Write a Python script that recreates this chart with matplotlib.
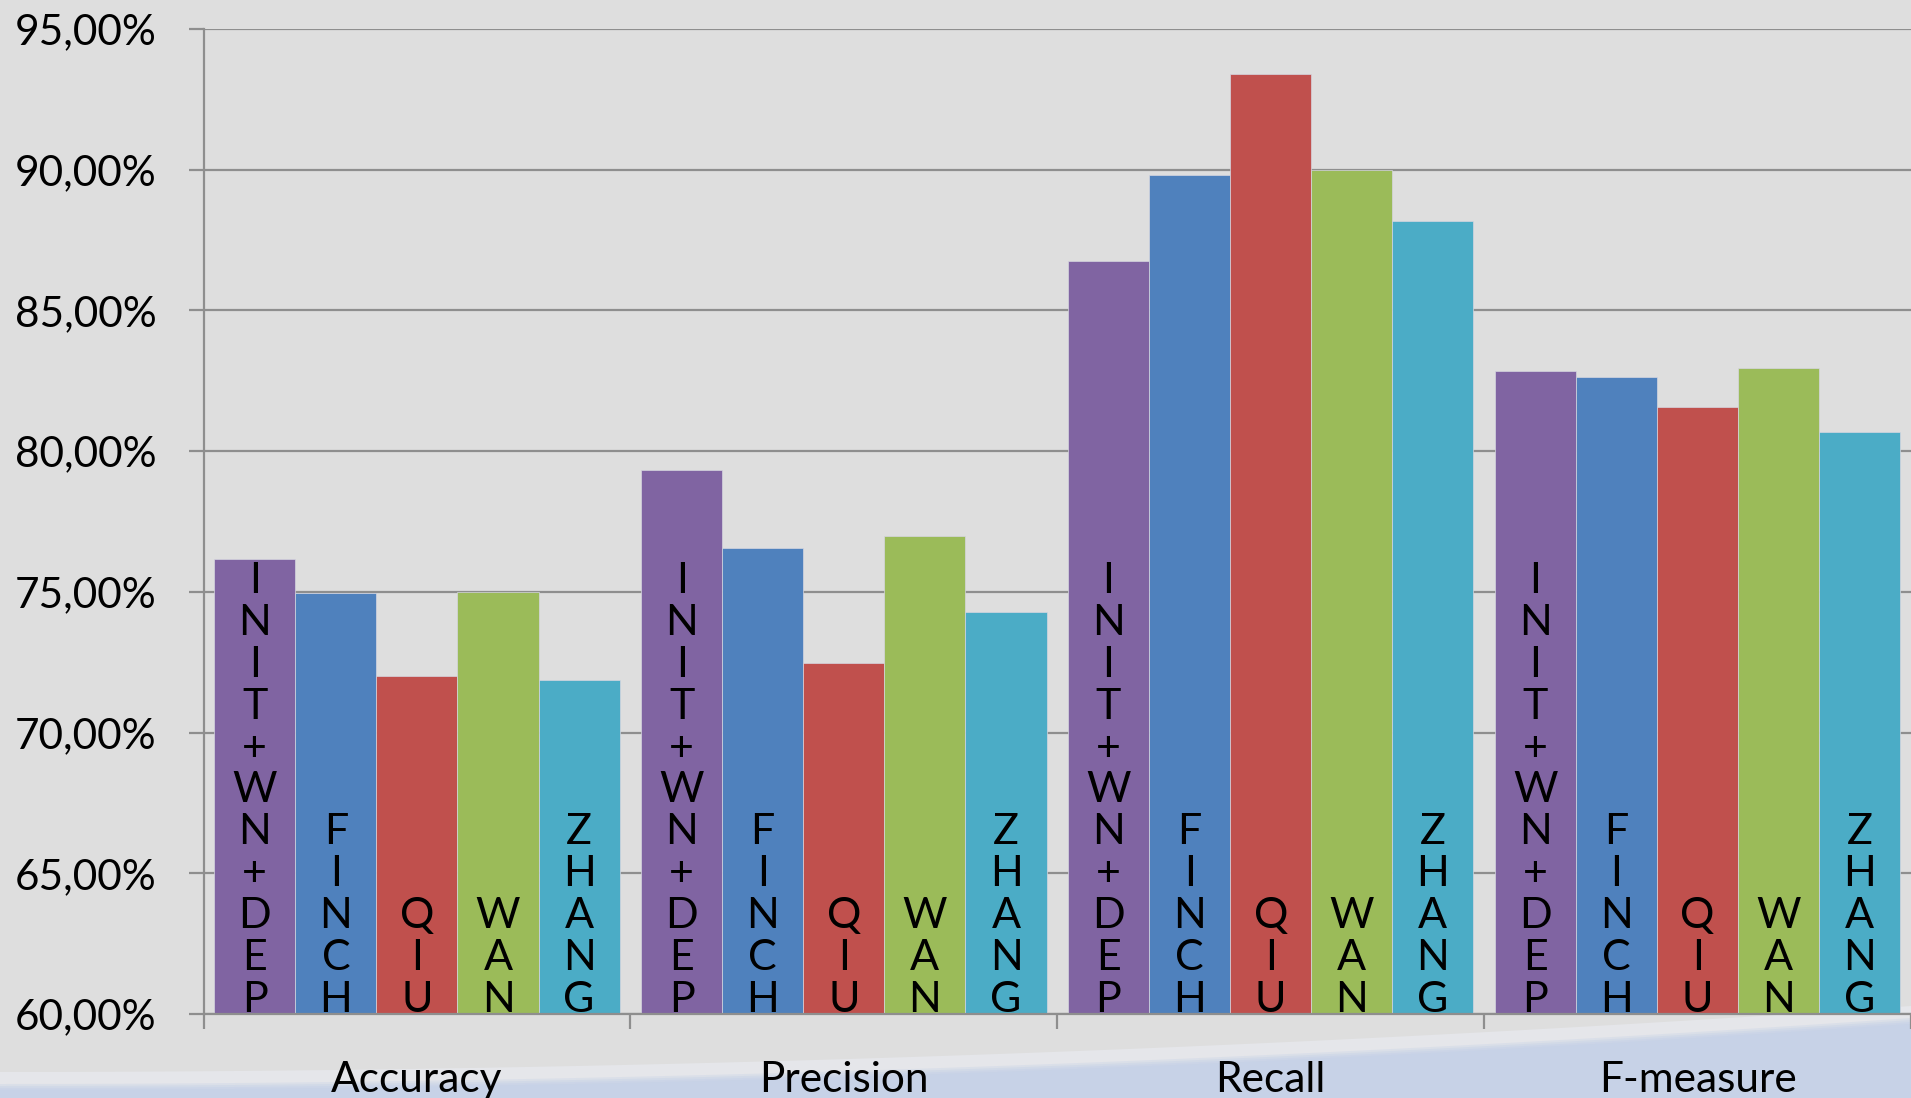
import numpy as np
import matplotlib
matplotlib.use("Agg")
from matplotlib import pyplot as plt
from matplotlib.patches import Polygon

categories = ["Accuracy", "Precision", "Recall", "F-measure"]
methods = ["INIT+WN+DEP", "FINCH", "QIU", "WANG", "ZHANG"]
# text written inside the bars (the WANG one shows only three letters)
bar_labels = ["INIT+WN+DEP", "FINCH", "QIU", "WAN", "ZHANG"]

# scores in percent, one list per method (same order as categories)
init_wn_dep = [76.16, 79.32, 86.77, 82.83]
finch = [74.95, 76.55, 89.80, 82.62]
qiu = [72.00, 72.48, 93.40, 81.58]
wang = [75.00, 76.98, 90.00, 82.96]
zhang = [71.87, 74.30, 88.19, 80.67]

series = [init_wn_dep, finch, qiu, wang, zhang]
colours = ["#8064A2", "#4F81BD", "#C0504D", "#9BBB59", "#4BACC6"]
y_ticks = [60, 65, 70, 75, 80, 85, 90, 95]

plt.rcParams['font.family'] = ['Lato', 'DejaVu Sans']

bg = "#dedede"
grid_c = "#8e8e8e"

fig = plt.figure(figsize=(19.11, 10.98), dpi=100, facecolor=bg)

# soft background swoosh at the bottom (decoration), a few layers to blur the edge
xs = np.linspace(0, 1, 60)
top = (8 + 66 * xs ** 2) / 1098
band = Polygon(np.column_stack([np.r_[xs, xs[::-1]], np.r_[top + 18 / 1098, top[::-1]]]),
               closed=True, transform=fig.transFigure, facecolor="#e5e6ea", edgecolor="none", zorder=0)
fig.patches.append(band)
for j, a in enumerate([0.35, 0.45, 0.6, 1.0]):
    off = (6 - 2 * j) / 1098
    layer = Polygon(np.column_stack([np.r_[xs, 1, 0], np.r_[top + off, 0, 0]]),
                    closed=True, transform=fig.transFigure, facecolor="#c7d2e7", alpha=a,
                    edgecolor="none", zorder=0)
    fig.patches.append(layer)

ax = fig.add_axes([203.5 / 1911, 1 - 1014 / 1098, 1 - 203.5 / 1911, (1014 - 29) / 1098])
ax.set_facecolor("none")
ax.set_zorder(2)

x = np.arange(len(categories))
w = 0.19
for i, (vals, col) in enumerate(zip(series, colours)):
    xpos = x + (i - 2) * w
    ax.bar(xpos, vals, width=w, color=col, edgecolor="#d6d6e0", linewidth=0.5, zorder=2)
    for xp in xpos:
        for k, ch in enumerate(reversed(bar_labels[i])):
            ax.annotate(ch, (xp, 60), xytext=(0, 1.8 + k * 30.1), textcoords="offset points",
                        ha="center", va="baseline", fontsize=31, color="black", zorder=3)

ax.set_xlim(-0.5, 3.5)
ax.set_ylim(60, 95)
ax.set_yticks(y_ticks)
ax.set_yticklabels([f"{v},00%" for v in y_ticks], fontsize=30.5)
ax.set_xticks(x)
ax.set_xticklabels(categories, fontsize=30.5)
ax.set_xticks(np.arange(-0.5, 4, 1), minor=True)

ax.tick_params(axis="y", length=10.8, width=1.6, color=grid_c, pad=23)
ax.tick_params(axis="x", which="major", length=0, pad=34)
ax.tick_params(axis="x", which="minor", length=10.8, width=1.6, color=grid_c)

ax.yaxis.grid(True, color=grid_c, linewidth=1.6, zorder=1)
ax.set_axisbelow(True)
for s in ["top", "right"]:
    ax.spines[s].set_visible(False)
for s in ["left", "bottom"]:
    ax.spines[s].set_color(grid_c)
    ax.spines[s].set_linewidth(1.6)
    ax.spines[s].set_zorder(4)

fig.savefig("out.png", dpi=100, facecolor=bg)
